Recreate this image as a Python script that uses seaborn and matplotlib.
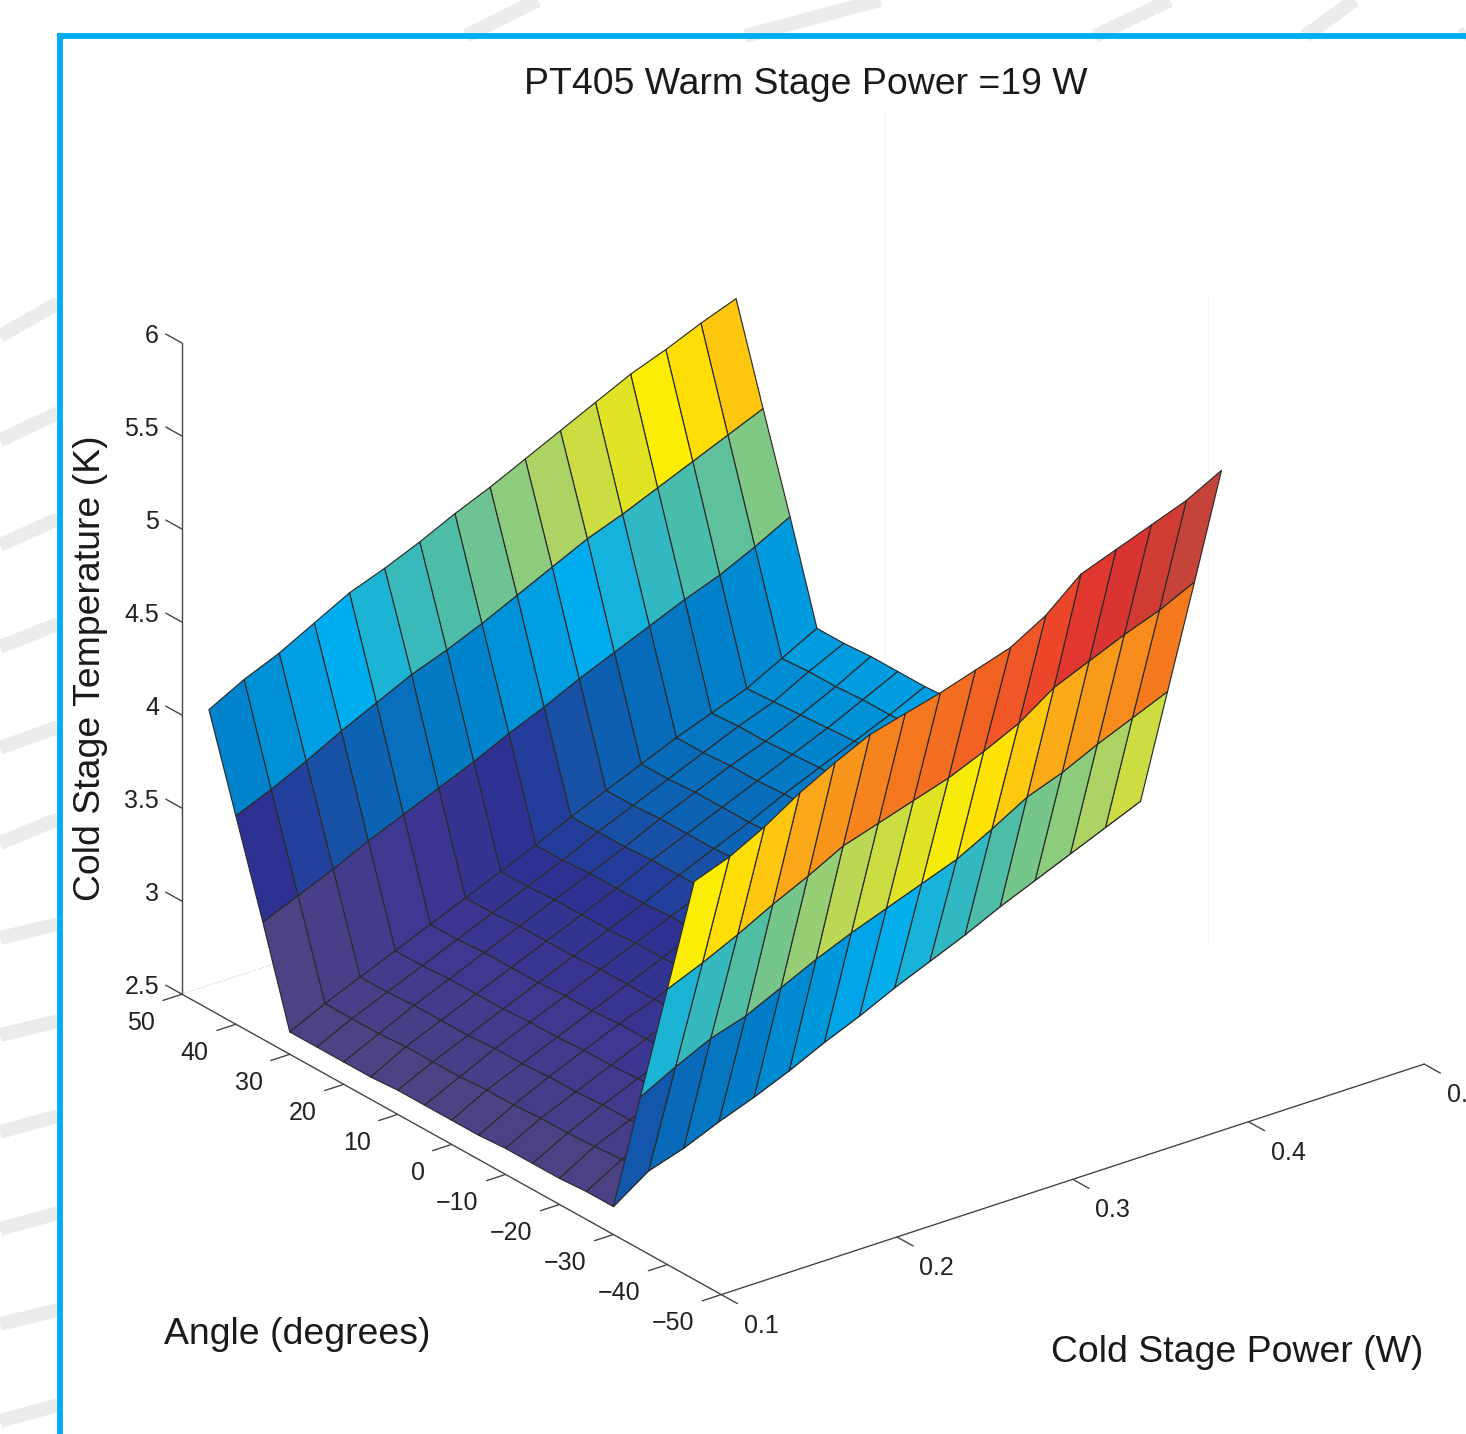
import numpy as np
import seaborn as sns
import matplotlib.pyplot as plt
from matplotlib.lines import Line2D
from mpl_toolkits.mplot3d import proj3d

# Data
power = [0.10, 0.12, 0.14, 0.16, 0.18, 0.20, 0.22, 0.24, 0.26, 0.28, 0.30, 0.32, 0.34, 0.36, 0.38, 0.40]
angle = [-45, -40, -35, -30, -25, -20, -15, -10, -5, 0, 5, 10, 15, 20, 25, 30, 35, 40, 45]

temp_m45 = [4.64, 4.71, 4.81, 4.93, 5.03, 5.12, 5.17, 5.22, 5.28, 5.34, 5.45, 5.61, 5.68, 5.75, 5.82, 5.92]
temp_m40 = [3.98, 4.06, 4.15, 4.25, 4.34, 4.44, 4.50, 4.56, 4.62, 4.70, 4.79, 4.92, 5.00, 5.08, 5.15, 5.24]
temp_m35 = [3.32, 3.42, 3.51, 3.57, 3.66, 3.75, 3.83, 3.90, 3.97, 4.04, 4.14, 4.25, 4.32, 4.41, 4.49, 4.57]
temp_m30 = [2.65, 2.78, 2.84, 2.92, 2.99, 3.07, 3.16, 3.24, 3.33, 3.41, 3.49, 3.58, 3.66, 3.74, 3.82, 3.90]
temp_m25 = [2.65, 2.76, 2.84, 2.92, 2.99, 3.07, 3.16, 3.24, 3.32, 3.41, 3.49, 3.57, 3.66, 3.74, 3.82, 3.90]
temp_m20 = [2.64, 2.75, 2.83, 2.91, 2.99, 3.07, 3.15, 3.23, 3.32, 3.40, 3.48, 3.57, 3.65, 3.73, 3.81, 3.89]
temp_m15 = [2.64, 2.74, 2.83, 2.91, 2.98, 3.06, 3.15, 3.23, 3.31, 3.40, 3.48, 3.56, 3.65, 3.73, 3.81, 3.89]
temp_m10 = [2.64, 2.74, 2.82, 2.90, 2.98, 3.06, 3.14, 3.22, 3.31, 3.39, 3.47, 3.56, 3.64, 3.72, 3.80, 3.89]
temp_m5 = [2.63, 2.73, 2.82, 2.90, 2.98, 3.05, 3.14, 3.22, 3.30, 3.39, 3.47, 3.55, 3.64, 3.72, 3.80, 3.88]
temp_0 = [2.63, 2.73, 2.81, 2.89, 2.97, 3.05, 3.13, 3.21, 3.30, 3.38, 3.46, 3.55, 3.63, 3.71, 3.79, 3.88]
temp_5 = [2.63, 2.72, 2.81, 2.89, 2.97, 3.05, 3.13, 3.21, 3.29, 3.38, 3.46, 3.54, 3.62, 3.70, 3.79, 3.88]
temp_10 = [2.63, 2.72, 2.80, 2.88, 2.96, 3.04, 3.12, 3.20, 3.29, 3.37, 3.45, 3.54, 3.62, 3.70, 3.78, 3.87]
temp_15 = [2.62, 2.72, 2.80, 2.88, 2.96, 3.04, 3.12, 3.20, 3.29, 3.37, 3.45, 3.53, 3.61, 3.69, 3.78, 3.87]
temp_20 = [2.62, 2.71, 2.80, 2.88, 2.96, 3.04, 3.12, 3.20, 3.28, 3.37, 3.45, 3.53, 3.60, 3.68, 3.77, 3.87]
temp_25 = [2.62, 2.71, 2.79, 2.87, 2.95, 3.03, 3.11, 3.19, 3.28, 3.36, 3.44, 3.52, 3.60, 3.67, 3.77, 3.86]
temp_30 = [2.62, 2.71, 2.79, 2.87, 2.95, 3.03, 3.11, 3.19, 3.28, 3.36, 3.44, 3.52, 3.59, 3.66, 3.76, 3.86]
temp_35 = [3.13, 3.21, 3.29, 3.38, 3.46, 3.54, 3.62, 3.71, 3.79, 3.88, 3.96, 4.04, 4.12, 4.19, 4.28, 4.38]
temp_40 = [3.62, 3.70, 3.79, 3.89, 3.98, 4.07, 4.14, 4.22, 4.31, 4.40, 4.49, 4.56, 4.64, 4.72, 4.80, 4.88]
temp_45 = [4.11, 4.21, 4.29, 4.39, 4.49, 4.56, 4.64, 4.73, 4.81, 4.90, 4.99, 5.08, 5.17, 5.24, 5.32, 5.39]

angle_ticks = [50, 40, 30, 20, 10, 0, -10, -20, -30, -40, -50]
power_ticks = [0.1, 0.2, 0.3, 0.4, 0.5]
temp_ticks = [2.5, 3, 3.5, 4, 4.5, 5, 5.5, 6]

sns.set_theme(style='white')
plt.rcParams['font.family'] = ['Liberation Sans', 'DejaVu Sans']

W, H = 1466, 1434
fig = plt.figure(figsize=(W / 100, H / 100), dpi=100, facecolor='white')


def pos(x, y):
    return x / W, 1 - y / H


# slide background: grey stripes and the cyan frame
stripes = [(0, 336, 58, 303), (0, 440, 58, 413), (0, 545, 58, 519), (0, 647, 58, 624),
           (0, 748, 58, 727), (0, 843, 58, 819), (0, 938, 58, 924), (0, 1035, 58, 1021),
           (0, 1132, 58, 1116), (0, 1229, 58, 1213), (0, 1324, 58, 1310), (0, 1421, 58, 1405),
           (466, 36, 538, 0), (745, 36, 880, 0), (1095, 36, 1170, 0), (1305, 36, 1355, 0),
           (1462, 36, 1472, 28)]
for x0, y0, x1, y1 in stripes:
    a0, b0 = pos(x0, y0)
    a1, b1 = pos(x1, y1)
    fig.add_artist(Line2D([a0, a1], [b0, b1], color='#ececee', lw=10, solid_capstyle='butt'))
for xs, ys in [([59.5, 59.5], [33, H]), ([57, W], [36, 36])]:
    a, b = zip(*[pos(x, y) for x, y in zip(xs, ys)])
    fig.add_artist(Line2D(a, b, color='#00aeef', lw=4.2, solid_capstyle='butt'))

ax = fig.add_axes([82.6 / W, 10 / H, 1403 / W, 1403 / H], projection='3d',
                  proj_type='ortho', computed_zorder=False)
ax.patch.set_alpha(0)
ax.set_axis_off()
ax.view_init(elev=25.3, azim=232.5)
ax.set_box_aspect((1, 1, 0.813))
ax.set_xlim(0.1, 0.5)
ax.set_ylim(-50, 50)
ax.set_zlim(2.5, 6)

# matlab jet as it came out of the printer
jet = sns.blend_palette(['#4c4284', '#3e3890', '#2e3192', '#0a64b4', '#0087cf', '#00aeef', '#50bea5',
                         '#aad269', '#ffee00', '#fbaf18', '#f57a1e', '#ee4a28', '#dc3230', '#b84c3c'],
                        n_colors=256, as_cmap=True)

temps = np.array([temp_m45, temp_m40, temp_m35, temp_m30, temp_m25, temp_m20, temp_m15,
                  temp_m10, temp_m5, temp_0, temp_5, temp_10, temp_15, temp_20, temp_25,
                  temp_30, temp_35, temp_40, temp_45])
P, A = np.meshgrid(power, angle)
colors = jet((temps - temps.min()) / (temps.max() - temps.min()))
surf = ax.plot_surface(P, A, temps, facecolors=colors, rstride=1, cstride=1, shade=False, zorder=2)
surf.set_edgecolor('#2b2b2b')
surf.set_linewidth(0.85)

# box edges
line = dict(color='#4a4444', lw=1.0, zorder=3)
ax.plot([0.1, 0.1], [50, -50], [2.5, 2.5], **line)
ax.plot([0.1, 0.5], [-50, -50], [2.5, 2.5], **line)
ax.plot([0.1, 0.1], [50, 50], [2.5, 6], **line)

# faint dotted back grid
dots = dict(color='#c8c8c8', lw=0.8, ls=':', zorder=1)
ax.plot([0.1, 0.5], [50, 50], [2.5, 2.5], **dots)
ax.plot([0.5, 0.5], [50, 50], [2.5, 6], color='#e4e4e4', lw=0.8, ls=':', zorder=1)
ax.plot([0.5, 0.5], [-10, -10], [2.5, 6], color='#e4e4e4', lw=0.8, ls=':', zorder=1)


def tick_label(p, a, t, s, ha):
    x, y, _ = proj3d.proj_transform(p, a, t, ax.get_proj())
    ax.text2D(x, y, s, transform=ax.transData, ha=ha, va='center', fontsize=18, color='#222222')


# ticks and tick labels
for a in angle_ticks:
    ax.plot([0.1, 0.0892], [a, a], [2.5, 2.5], **line)
    tick_label(0.1 - 0.0154, a, 2.5 - 0.106, str(a).replace('-', '\u2212'), 'right')
for p in power_ticks:
    ax.plot([p, p], [-50, -53], [2.5, 2.5], **line)
    tick_label(p, -50 - 7.39, 2.5 - 0.047, f'{p:.1f}', 'center')
for t in temp_ticks:
    ax.plot([0.1, 0.1], [50, 53], [t, t], **line)
    tick_label(0.1, 54.25, t - 0.031, f'{t:g}', 'right')

fig.text(*pos(806, 84), 'PT405 Warm Stage Power =19 W', ha='center', va='center', fontsize=26.9, color='#1a1a1a')
fig.text(*pos(91, 668), 'Cold Stage Temperature (K)', ha='center', va='center', rotation=90, fontsize=26.9, color='#1a1a1a')
fig.text(*pos(297, 1335), 'Angle (degrees)', ha='center', va='center', fontsize=26.9, color='#1a1a1a')
fig.text(*pos(1237, 1352), 'Cold Stage Power (W)', ha='center', va='center', fontsize=26.9, color='#1a1a1a')

fig.savefig('out.png', dpi=100)
